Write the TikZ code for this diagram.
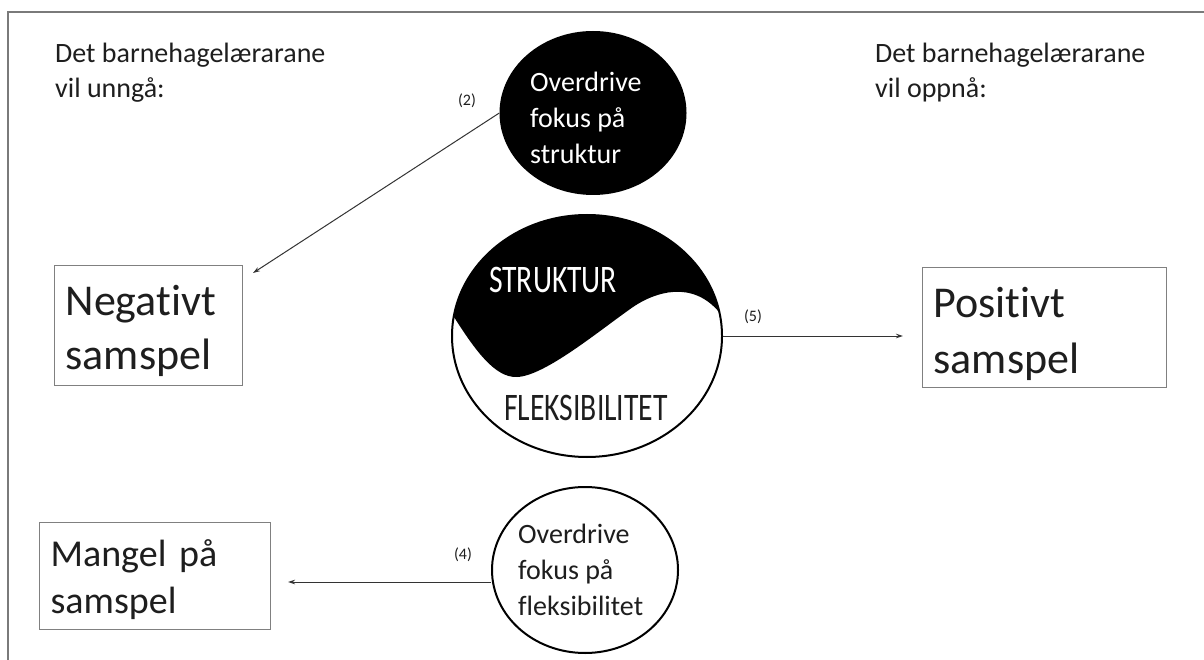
\documentclass[tikz,border=0pt]{standalone}
\usepackage{fontspec}
\setmainfont{Carlito}[Ligatures=NoCommon]
\newfontfamily\condfont{Carlito}[FakeStretch=0.76,Ligatures=NoCommon]
\usetikzlibrary{shapes.geometric,arrows.meta}
\definecolor{txtc}{HTML}{1E1E1E}
\definecolor{framec}{HTML}{7A7A7A}
\definecolor{boxc}{HTML}{808080}
\definecolor{arrc}{HTML}{333333}
\begin{document}
\begin{tikzpicture}[x=1pt,y=-1pt,
  hdr/.style={font=\fontsize{28}{35}\selectfont, align=left, inner sep=0pt, anchor=base west, text=txtc},
  bigbox/.style={draw=boxc, line width=1.2pt, align=left, inner ysep=0pt, inner xsep=11pt, anchor=north west, text=txtc},
  circtxt/.style={font=\fontsize{28}{36}\selectfont, align=left, inner sep=0pt, anchor=base west},
  lab/.style={font=\fontsize{16}{16}\selectfont, text=txtc, inner sep=0pt},
  arr/.style={draw=arrc, line width=1pt, -{Stealth[length=7pt,width=4.5pt]}},
  yylab/.style={font=\condfont\fontsize{39}{39}\selectfont, inner sep=0pt, anchor=base}
]
\useasboundingbox (0,0) rectangle (1204,660);
\fill[white] (0,0) rectangle (1204,660);
% frame
\draw[framec, line width=1.5pt] (8,660) -- (8,12) -- (1204,12);

% headers (anchor at baseline of last line)
\node[hdr] (hl) at (55,98) {Det barnehagelærarane\\vil unngå:};
\node[hdr] (hr) at (875,98) {Det barnehagelærarane\\vil oppnå:};

% boxes
\node[bigbox, font=\fontsize{44}{54}\selectfont, text width=166pt, minimum height=120pt] (neg) at (54,265) {\rule{0pt}{41pt}Negativt\\samspel};
\node[bigbox, font=\fontsize{44}{56}\selectfont, text width=222pt, minimum height=120pt] (pos) at (922,267) {\rule{0pt}{43pt}Positivt\\samspel};
\node[bigbox, font=\fontsize{38}{47}\selectfont, text width=209pt, minimum height=107pt] (man) at (39,522) {\rule{0pt}{34pt}Mangel på\\samspel};

% top black ellipse
\node[ellipse, fill=black, minimum width=187pt, minimum height=164pt, inner sep=0pt] (ovs) at (593,113) {};
\node[circtxt, text=white] (ovst) at (530,164) {Overdrive\\fokus på\\struktur};

% yin-yang
\begin{scope}
  \clip (587,336) ellipse [x radius=135, y radius=121];
  \fill[black] (440,317) -- (454,317) .. controls (475,350) and (495,378) .. (517,377)
     .. controls (545,376) and (600,330) .. (633,307)
     .. controls (655,292) and (692,280) .. (719,312) -- (740,312) -- (740,200) -- (440,200) -- cycle;
\end{scope}
\node[ellipse, draw=black, line width=2pt, minimum width=270pt, minimum height=242pt, inner sep=0pt] (yy) at (587,336) {};
\node[yylab, text=white] (st) at (553,292) {STRUKTUR};
\node[yylab, text=txtc] (fl) at (586,420) {FLEKSIBILITET};

% bottom circle
\node[ellipse, draw=black, line width=2pt, minimum width=186pt, minimum height=166pt, inner sep=0pt] (ovf) at (585,570) {};
\node[circtxt, text=txtc] (ovft) at (518,615) {Overdrive\\fokus på\\fleksibilitet};

% connectors
\coordinate (negend) at (253,273);
\coordinate (posend) at (903,336);
\coordinate (manend) at (288,582);
\draw[arr] (ovs.west) -- (negend);
\draw[arr] (yy.east) -- (posend);
\draw[arr] (ovf.west |- manend) -- (manend);

% labels
\node[lab] (l2) at (467,101) {(2)};
\node[lab] (l5) at (753,317) {(5)};
\node[lab] (l4) at (463,555) {(4)};
\end{tikzpicture}
\end{document}
